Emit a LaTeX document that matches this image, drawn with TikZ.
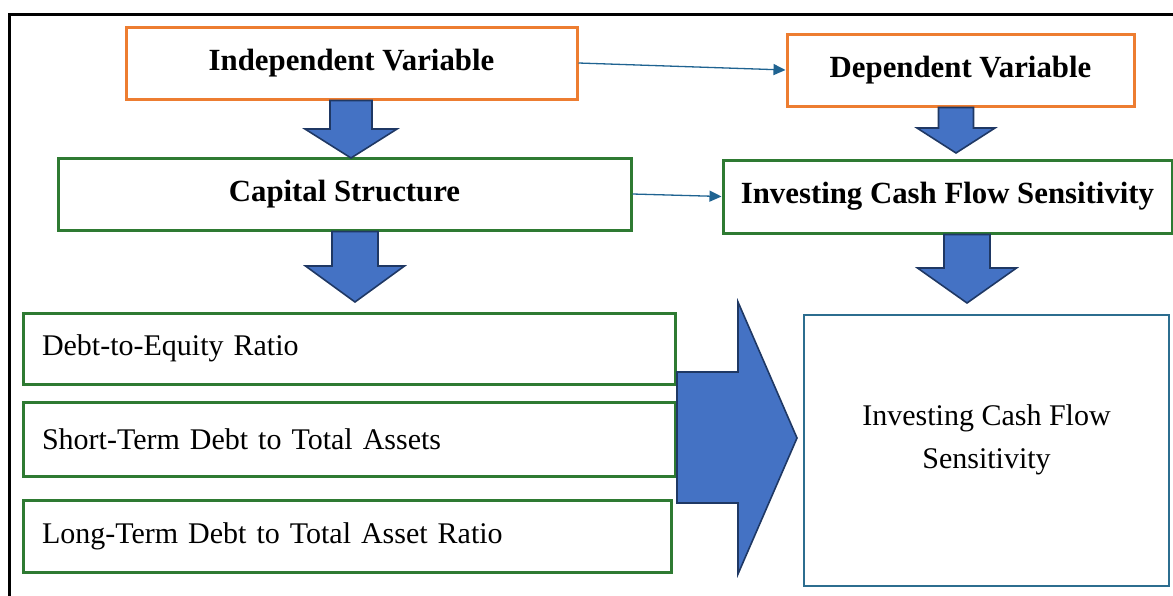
\documentclass[tikz,border=0pt]{standalone}
\usepackage{fontspec}
\setmainfont{Liberation Serif}
\usepackage{tikz}
\usetikzlibrary{positioning, arrows.meta, calc}
\definecolor{varOrange}{HTML}{ED7D31}
\definecolor{dimGreen}{HTML}{2E7A32}
\definecolor{linkTeal}{HTML}{1F6391}
\definecolor{blockFill}{HTML}{4472C4}
\definecolor{blockBord}{HTML}{1F3864}
\definecolor{resultBord}{HTML}{2C6D8F}
\tikzstyle{headFont}=[font=\bfseries\fontsize{30.8}{36}\selectfont]
\tikzstyle{itemFont}=[font=\fontsize{30}{43}\selectfont]
\tikzstyle{varBox}=[headFont, draw=varOrange, line width=3pt, minimum height=72pt]
\tikzstyle{dimBox}=[headFont, draw=dimGreen, line width=3pt, minimum height=72pt]
\tikzstyle{itemBox}=[itemFont, draw=dimGreen, line width=3pt, inner xsep=19pt, align=left]
\tikzstyle{resultBox}=[draw=resultBord, line width=2pt]
\tikzstyle{link}=[-{Triangle[length=12pt,width=11pt]}, line width=1.3pt, draw=linkTeal]
\tikzstyle{blockArrow}=[fill=blockFill, draw=blockBord, line width=1.6pt, line join=miter]
% block arrow pointing down: from node, centre x, shaft half, head half, neck y, tip y
\newcommand{\blockDown}[6]{%
  \path[blockArrow] (#2-#3,0 |- #1.south) -- (#2+#3,0 |- #1.south) -- (#2+#3,#5)
    -- (#2+#4,#5) -- (#2,#6) -- (#2-#4,#5) -- (#2-#3,#5) -- cycle;}

\begin{document}
\begin{tikzpicture}[x=1pt, y=-1pt]
      \useasboundingbox (0,0) rectangle (1173,595);
      \draw[line width=3pt] (9,600) -- (9,14) -- (1180,14);

      \node[varBox, minimum width=451pt] (indep) at (351.5,63) {Independent Variable};
      \node[varBox, minimum width=347pt] (dep) at (960.5,70) {Dependent Variable};
      \node[dimBox, minimum width=573pt] (capital) at (344.5,194) {Capital Structure};
      \node[dimBox, minimum width=449pt, minimum height=73pt] (icfs) at (947.5,196.5)
        {Investing Cash Flow Sensitivity};

      \node[itemBox, text width=614pt, minimum height=71pt] (der) at (349,348.5)
        {Debt-to-Equity Ratio};
      \node[itemBox, text width=614pt, minimum height=74pt] (stda) at (349,439)
        {Short-Term Debt to Total Assets};
      \node[itemBox, text width=610pt, minimum height=72pt] (ltda) at (347,536)
        {Long-Term Debt to Total Asset Ratio};

      \node[resultBox, minimum width=365pt, minimum height=271pt,
        label={[itemFont, align=center, yshift=11pt]center:Investing Cash Flow\\Sensitivity}]
        (result) at (986.5,450.5) {};

      \draw[link] (indep.east) -- (dep.west);
      \draw[link] (capital.east) -- (icfs.west);

      \blockDown{indep}{351}{21}{46}{129}{158}
      \blockDown{dep}{956}{17.5}{39}{128}{153}
      \blockDown{capital}{355}{23}{49.5}{266}{302}
      \blockDown{icfs}{967}{23}{49.5}{268}{303}

      \path[blockArrow] (677,372) -- (738,372) -- (738,302) -- (797,438)
        -- (738,574) -- (738,503) -- (677,503) -- cycle;
    \end{tikzpicture}
\end{document}
